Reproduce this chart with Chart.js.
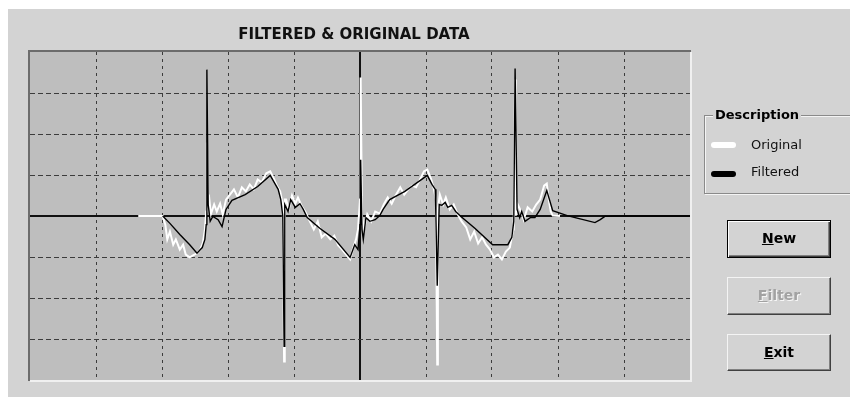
<!DOCTYPE html>
<html>
<head>
<meta charset="utf-8">
<script src="https://cdn.jsdelivr.net/npm/chart.js@4.4.0/dist/chart.umd.min.js"></script>
<style>
  body { margin: 0; background: #fff; font-family: "DejaVu Sans", sans-serif; }
  #panel { position: absolute; left: 8px; top: 9px; width: 842px; height: 388px; background: #d3d3d3; }
  #scope { position: absolute; left: 0; top: 0; }
  .group { position: absolute; left: 704px; top: 115px; width: 160px; height: 77px;
           border: 1px solid #8a8a8a; box-shadow: 1px 1px 0 #f4f4f4, inset 1px 1px 0 #f4f4f4; }
  .group-title { position: absolute; left: 713px; top: 107px; padding: 0 2px; background: #d3d3d3;
                 font-weight: bold; font-size: 13px; line-height: 16px; }
  .swatch { position: absolute; left: 711px; width: 25px; height: 6px; border-radius: 3px; }
  .item { position: absolute; left: 751px; font-size: 13px; line-height: 16px; color: #111; }
  .btn { position: absolute; left: 727px; width: 104px; height: 38px; box-sizing: border-box;
         background: #d3d3d3; font-weight: bold; font-size: 14px; text-align: center; }
  .btn span { display: block; line-height: 34px; }
  .def { border: 1px solid #000; box-shadow: inset 1px 1px 0 #fff, inset -1px -1px 0 #404040, inset -2px -2px 0 #808080; }
  .plain { border-top: 1px solid #f4f4f4; border-left: 1px solid #f4f4f4; border-right: 1px solid #404040; border-bottom: 1px solid #404040;
           box-shadow: inset -1px -1px 0 #808080; }
  .off { color: #a2a2a2; text-shadow: 1px 1px 0 #f6f6f6; }
</style>
</head>
<body>
<div id="panel"></div>
<canvas id="scope" width="850" height="397"></canvas>

<div class="group"></div>
<div class="group-title">Description</div>
<div class="swatch" style="top:142px;background:#fff"></div>
<div class="item" style="top:137px">Original</div>
<div class="swatch" style="top:171px;background:#000"></div>
<div class="item" style="top:164px">Filtered</div>

<div class="btn def" style="top:220px"><span><u>N</u>ew</span></div>
<div class="btn plain off" style="top:277px"><span><u>F</u>ilter</span></div>
<div class="btn plain" style="top:334px;height:37px"><span><u>E</u>xit</span></div>

<script>
// samples 0..1000 across the screen, amplitude in grid divisions
const filteredX = [201,212,227,242,253,261,265,267,268,270,273,277,285,291,297,306,326,345,364,370,
  376,380,383,385,386,391,395,402,409,414,420,439,462,485,492,497,500,501,503,505,
  509,515,523,530,535,545,568,602,609,614,615,617,620,624,629,633,639,645,652,674,
  701,724,730,733,735,738,742,745,750,758,765,773,783,792,814,826,856,864,871,886,1000]
const filteredY = [0,-0.18,-0.45,-0.70,-0.91,-0.77,-0.57,-0.21,3.57,0.28,-0.13,-0.01,-0.09,-0.26,0.16,0.38,0.52,0.72,0.99,0.82,
  0.65,0.40,0,-3.18,0.28,0.11,0.40,0.21,0.30,0.16,-0.04,-0.30,-0.57,-1.01,-0.70,-0.82,-0.21,1.37,-0.33,-0.57,
  -0.04,-0.13,-0.09,0.01,0.16,0.40,0.60,0.99,0.77,0.65,0,-1.70,0.28,0.26,0.33,0.21,0.26,0.11,0,-0.30,
  -0.70,-0.70,-0.52,-0.13,3.60,0.16,-0.04,0.11,-0.13,-0.04,-0.04,0.16,0.62,0.13,0.01,-0.04,-0.16,-0.09,-0.01,0,0]

const originalX = [164,201,205,208,212,217,221,227,232,236,242,247,253,258,262,265,267,268,270,271,
  274,279,283,288,292,297,303,309,315,321,327,333,339,345,351,358,364,370,374,379,
  383,385,386,388,392,397,402,406,412,417,424,430,436,442,448,455,461,467,473,479,
  485,489,494,497,500,501,503,506,511,517,523,530,536,542,548,554,561,567,573,579,
  585,591,597,602,608,612,615,617,618,621,626,630,636,642,648,654,661,667,673,679,
  685,691,697,703,709,715,721,727,732,733,735,736,739,744,748,754,761,767,773,779,
  783,786,789,792,803]
const originalY = [0,0,-0.21,-0.57,-0.38,-0.70,-0.57,-0.82,-0.70,-0.94,-1.01,-0.96,-0.91,-0.82,-0.65,-0.33,0.11,1.79,0.40,0.52,
  0.04,0.28,0.11,0.30,0.04,0.40,0.52,0.65,0.45,0.70,0.60,0.77,0.65,0.89,0.82,1.04,1.09,0.89,0.74,0.60,
  0.28,-3.55,0.40,0.40,0.16,0.50,0.30,0.45,0.23,0.11,-0.13,-0.33,-0.13,-0.52,-0.43,-0.57,-0.48,-0.72,-0.82,-0.94,
  -1.06,-0.82,-0.57,-0.33,0.40,3.38,0.01,-0.33,0.04,-0.13,0.11,0.06,0.28,0.45,0.30,0.50,0.70,0.52,0.65,0.74,
  0.70,0.89,1.09,1.13,0.89,0.65,0.40,-3.62,0.16,0.52,0.28,0.45,0.16,0.28,0.04,-0.13,-0.28,-0.57,-0.38,-0.67,
  -0.52,-0.70,-0.82,-1.01,-0.94,-1.06,-0.87,-0.77,-0.33,0.04,3.33,0.01,0.28,0.11,-0.09,0.21,0.11,0.28,0.40,0.74,
  0.79,0.40,0.11,0.01,0]

const toPoints = (xs, ys) => xs.map((x, i) => ({x: x, y: ys[i]}))

const scopeFrame = {
  id: 'scopeFrame',
  beforeDraw(chart) {
    const {ctx, chartArea: {top, bottom, left, right}} = chart;
    ctx.save();
    ctx.fillStyle = '#bebebe';
    ctx.fillRect(left, top, right - left, bottom - top);
    ctx.restore();
  },
  afterDraw(chart) {
    const {ctx, chartArea: {top, bottom, left, right}} = chart;
    ctx.save();
    ctx.lineWidth = 2;
    ctx.strokeStyle = '#6c6c6c';
    ctx.beginPath();
    ctx.moveTo(left - 1, bottom + 1);
    ctx.lineTo(left - 1, top - 1);
    ctx.lineTo(right + 1, top - 1);
    ctx.stroke();
    ctx.strokeStyle = '#f0f0f0';
    ctx.beginPath();
    ctx.moveTo(right + 1, top);
    ctx.lineTo(right + 1, bottom + 1);
    ctx.lineTo(left, bottom + 1);
    ctx.stroke();
    ctx.font = 'bold 15px "DejaVu Sans"';
    ctx.fillStyle = '#111';
    ctx.textAlign = 'center';
    ctx.fillText('FILTERED & ORIGINAL DATA', (left + right) / 2 - 6, top - 13);
    ctx.restore();
  }
}

const gridFor = (center, lo, hi, dash) => ({
  grid: {
    drawTicks: false,
    color: c => (c.tick.value === lo || c.tick.value === hi) ? 'rgba(0,0,0,0)' : (c.tick.value === center ? '#111' : '#3c3c3c'),
    lineWidth: c => c.tick.value === center ? 2 : 1
  },
  border: { display: false, dash: c => (c.tick && c.tick.value === center) ? [] : dash },
  ticks: { display: false }
})

const myChart = new Chart(document.getElementById('scope'), {
  type: 'line',
  data: {
    datasets: [{
      label: 'Filtered',
      data: toPoints(filteredX, filteredY),
      borderColor: '#000',
      borderWidth: 1.4,
      order: 1
    }, {
      label: 'Original',
      data: toPoints(originalX, originalY),
      borderColor: '#fff',
      borderWidth: 2,
      order: 2
    }]
  },
  options: {
    responsive: false,
    animation: false,
    devicePixelRatio: 1,
    layout: { padding: { left: 30, top: 52, right: 160, bottom: 17 } },
    elements: { point: { radius: 0 }, line: { tension: 0 } },
    plugins: { legend: { display: false }, tooltip: { enabled: false } },
    scales: {
      x: Object.assign({ type: 'linear', min: 0, max: 1000 }, gridFor(500, 0, 1000, [3, 4]), { ticks: { display: false, stepSize: 100 } }),
      y: Object.assign({ type: 'linear', min: -4, max: 4 }, gridFor(0, -4, 4, [5, 3]), { ticks: { display: false, stepSize: 1 } })
    }
  },
  plugins: [scopeFrame]
})
</script>
</body>
</html>
